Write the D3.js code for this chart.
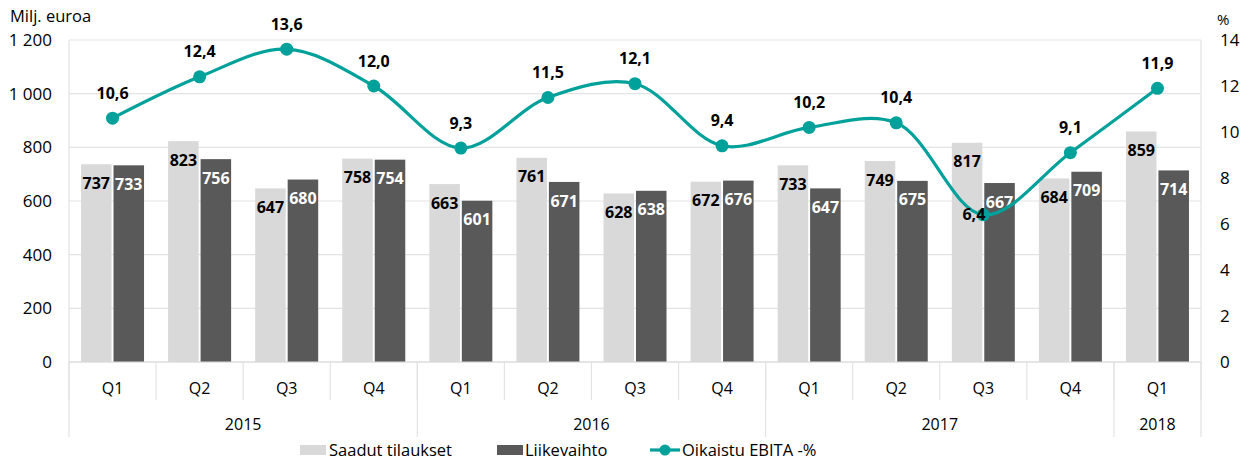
<!DOCTYPE html>
<html>
<head>
<meta charset="utf-8">
<script src="https://cdn.jsdelivr.net/npm/d3@7"></script>
<style>
  body { margin: 0; background: #fff; }
  text { font-family: "Open Sans", sans-serif; fill: #000; }
</style>
</head>
<body>
<div id="chart"></div>
<script>
// Data
const quarters = ['Q1', 'Q2', 'Q3', 'Q4', 'Q1', 'Q2', 'Q3', 'Q4', 'Q1', 'Q2', 'Q3', 'Q4', 'Q1'];
const years = ['2015', '2016', '2017', '2018'];
const quartersPerYear = [4, 4, 4, 1];
const orders = [737, 823, 647, 758, 663, 761, 628, 672, 733, 749, 817, 684, 859];
const revenue = [733, 756, 680, 754, 601, 671, 638, 676, 647, 675, 667, 709, 714];
const ebita = [10.6, 12.4, 13.6, 12.0, 9.3, 11.5, 12.1, 9.4, 10.2, 10.4, 6.4, 9.1, 11.9];
const leftTicks = [0, 200, 400, 600, 800, 1000, 1200];
const rightTicks = [0, 2, 4, 6, 8, 10, 12, 14];

const width = 1249, height = 460;
const margin = { top: 40, right: 48, bottom: 98, left: 69 };
const lightColor = '#d9d9d9', darkColor = '#595959', lineColor = '#00a19a', gridColor = '#e3e3e3';

const fi = d3.formatLocale({ decimal: ',', thousands: '\u00a0', grouping: [3], currency: ['', '€'] });
const fmtInt = fi.format(',d');
const fmtPct = fi.format('.1f');

const svg = d3.select('#chart').append('svg')
    .attr('width', width)
    .attr('height', height);

const x0 = margin.left, x1 = width - margin.right;
const yTop = margin.top, yBot = height - margin.bottom;

const x = d3.scaleBand()
    .domain(d3.range(quarters.length))
    .range([x0, x1]);

const xSub = d3.scaleBand()
    .domain([0, 1])
    .range([0, 63])
    .paddingInner(0.06);

const y = d3.scaleLinear().domain([0, 1200]).range([yBot, yTop]);
const y2 = d3.scaleLinear().domain([0, 14]).range([yBot, yTop]);

// Gridlines
svg.append('g')
    .selectAll('line')
    .data(leftTicks)
    .join('line')
    .attr('x1', x0).attr('x2', x1)
    .attr('y1', d => y(d)).attr('y2', d => y(d))
    .attr('stroke', gridColor)
    .attr('stroke-width', 1.2);

// Plot border sides
svg.append('line').attr('x1', x0).attr('x2', x0).attr('y1', yTop).attr('y2', yBot)
    .attr('stroke', gridColor).attr('stroke-width', 1.2);
svg.append('line').attr('x1', x1).attr('x2', x1).attr('y1', yTop).attr('y2', yBot)
    .attr('stroke', gridColor).attr('stroke-width', 1.2);

// Left axis labels
svg.append('g')
    .selectAll('text')
    .data(leftTicks)
    .join('text')
    .attr('x', 52)
    .attr('y', d => y(d))
    .attr('dy', '0.35em')
    .attr('text-anchor', 'end')
    .style('font-size', '17px')
    .text(d => fmtInt(d));

svg.append('text')
    .attr('x', 10).attr('y', 22)
    .style('font-size', '16.5px')
    .text('Milj. euroa');

// Right axis labels
svg.append('g')
    .selectAll('text')
    .data(rightTicks)
    .join('text')
    .attr('x', 1220)
    .attr('y', d => y2(d))
    .attr('dy', '0.35em')
    .style('font-size', '17px')
    .text(d => d);

svg.append('text')
    .attr('x', 1217).attr('y', 25)
    .style('font-size', '15px')
    .text('%');

// Bars
const groupOffset = (x.bandwidth() - 63) / 2;
const bars = svg.append('g');

bars.selectAll('.bar-orders')
    .data(orders)
    .join('rect')
    .attr('class', 'bar-orders')
    .attr('x', (d, i) => x(i) + groupOffset + xSub(0))
    .attr('y', d => y(d))
    .attr('width', xSub.bandwidth())
    .attr('height', d => yBot - y(d))
    .attr('fill', lightColor);

bars.selectAll('.bar-revenue')
    .data(revenue)
    .join('rect')
    .attr('class', 'bar-revenue')
    .attr('x', (d, i) => x(i) + groupOffset + xSub(1))
    .attr('y', d => y(d))
    .attr('width', xSub.bandwidth())
    .attr('height', d => yBot - y(d))
    .attr('fill', darkColor);

// Category axis
const axis = svg.append('g');
axis.append('line')
    .attr('x1', x0).attr('x2', x1)
    .attr('y1', yBot).attr('y2', yBot)
    .attr('stroke', '#d9d9d9').attr('stroke-width', 1.2);

axis.selectAll('.qsep')
    .data(d3.range(quarters.length + 1))
    .join('line')
    .attr('class', 'qsep')
    .attr('x1', i => x0 + i * x.bandwidth())
    .attr('x2', i => x0 + i * x.bandwidth())
    .attr('y1', yBot)
    .attr('y2', 400)
    .attr('stroke', '#e3e3e3').attr('stroke-width', 1.2);

axis.selectAll('.qlabel')
    .data(quarters)
    .join('text')
    .attr('class', 'qlabel')
    .attr('x', (d, i) => x(i) + x.bandwidth() / 2)
    .attr('y', 388)
    .attr('dy', '0.35em')
    .attr('text-anchor', 'middle')
    .style('font-size', '16px')
    .text(d => d);

const yearStarts = d3.cumsum([0].concat(quartersPerYear));
axis.selectAll('.ysep')
    .data(yearStarts)
    .join('line')
    .attr('class', 'ysep')
    .attr('x1', i => x0 + i * x.bandwidth())
    .attr('x2', i => x0 + i * x.bandwidth())
    .attr('y1', yBot)
    .attr('y2', 437)
    .attr('stroke', '#e3e3e3').attr('stroke-width', 1.2);

axis.selectAll('.ylabel')
    .data(years)
    .join('text')
    .attr('class', 'ylabel')
    .attr('x', (d, i) => x0 + (yearStarts[i] + quartersPerYear[i] / 2) * x.bandwidth())
    .attr('y', 424)
    .attr('dy', '0.35em')
    .attr('text-anchor', 'middle')
    .style('font-size', '16px')
    .text(d => d);

// Bar labels
svg.append('g')
    .selectAll('text')
    .data(orders)
    .join('text')
    .attr('x', (d, i) => x(i) + groupOffset + xSub(0) + xSub.bandwidth() / 2)
    .attr('y', d => y(d) + 19)
    .attr('dy', '0.35em')
    .attr('text-anchor', 'middle')
    .style('font-size', '16px')
    .style('font-weight', 'bold')
    .style('fill', '#000')
    .text(d => d);

svg.append('g')
    .selectAll('text')
    .data(revenue)
    .join('text')
    .attr('x', (d, i) => x(i) + groupOffset + xSub(1) + xSub.bandwidth() / 2)
    .attr('y', d => y(d) + 19)
    .attr('dy', '0.35em')
    .attr('text-anchor', 'middle')
    .style('font-size', '16px')
    .style('font-weight', 'bold')
    .style('fill', '#fff')
    .text(d => d);

// EBITA line
const line = d3.line()
    .x((d, i) => x(i) + x.bandwidth() / 2)
    .y(d => y2(d))
    .curve(d3.curveCatmullRom.alpha(0.5));

svg.append('path')
    .datum(ebita)
    .attr('d', line)
    .attr('fill', 'none')
    .attr('stroke', lineColor)
    .attr('stroke-width', 3.2);

svg.append('g')
    .selectAll('circle')
    .data(ebita)
    .join('circle')
    .attr('cx', (d, i) => x(i) + x.bandwidth() / 2)
    .attr('cy', d => y2(d))
    .attr('r', 6.5)
    .attr('fill', lineColor);

// EBITA labels: above the point, except the dip which sits to the left
const minIdx = d3.minIndex(ebita);
svg.append('g')
    .selectAll('text')
    .data(ebita)
    .join('text')
    .attr('x', (d, i) => x(i) + x.bandwidth() / 2 + (i === minIdx ? 2 : 0))
    .attr('y', (d, i) => y2(d) + (i === minIdx ? 0 : -25))
    .attr('dy', '0.35em')
    .attr('text-anchor', (d, i) => i === minIdx ? 'end' : 'middle')
    .style('font-size', '16px')
    .style('font-weight', 'bold')
    .text(d => fmtPct(d));

// Legend
const legend = svg.append('g').attr('transform', 'translate(0,450)');
legend.append('rect').attr('x', 300).attr('y', -5).attr('width', 26).attr('height', 10).attr('fill', lightColor);
legend.append('text').attr('x', 329).attr('dy', '0.35em').style('font-size', '16.5px').text('Saadut tilaukset');
legend.append('rect').attr('x', 497).attr('y', -5).attr('width', 26).attr('height', 10).attr('fill', darkColor);
legend.append('text').attr('x', 525).attr('dy', '0.35em').style('font-size', '16.5px').text('Liikevaihto');
legend.append('line').attr('x1', 650).attr('x2', 680).attr('y1', 0).attr('y2', 0)
    .attr('stroke', lineColor).attr('stroke-width', 3.2);
legend.append('circle').attr('cx', 665).attr('cy', 0).attr('r', 5.5).attr('fill', lineColor);
legend.append('text').attr('x', 682).attr('dy', '0.35em').style('font-size', '16.5px').text('Oikaistu EBITA -%');
</script>
</body>
</html>
